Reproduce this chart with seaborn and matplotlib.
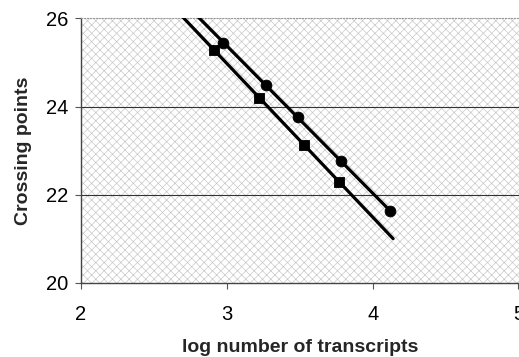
import numpy as np
import pandas as pd
import matplotlib
matplotlib.use("Agg")
import matplotlib.pyplot as plt
import seaborn as sns
from matplotlib.patches import Rectangle

# values
log_a = [2.977, 3.27, 3.49, 3.78, 4.12]
cp_a = [25.43, 24.49, 23.76, 22.76, 21.63]
log_b = [2.913, 3.222, 3.531, 3.771]
cp_b = [25.28, 24.20, 23.13, 22.29]
fit_range = [2.6, 4.14]

x_ticks = [2, 3, 4, 5]
y_ticks = [20, 22, 24, 26]

sns.set_style("white")
plt.rcParams["font.family"] = ["Liberation Sans", "DejaVu Sans"]
plt.rcParams["hatch.linewidth"] = 0.45
plt.rcParams["hatch.color"] = "#c4c4c4"

fig = plt.figure(figsize=(5.19, 3.57), dpi=100)
ax = fig.add_axes([81 / 519, 1 - 283 / 357, (518.5 - 81) / 519, (283 - 18.3) / 357])

# dotted grey background texture
ax.add_patch(Rectangle((0, 0), 1, 1, transform=ax.transAxes, facecolor="white",
                       hatch="xxxx", edgecolor="#c4c4c4", lw=0, zorder=0))

for y in [22, 24]:
    ax.axhline(y, color="#333333", lw=0.8, zorder=1)

# regression lines
for xs, ys in [(log_a, cp_a), (log_b, cp_b)]:
    k, b = np.polyfit(xs, ys, 1)
    line = pd.DataFrame({"x": fit_range, "y": [k * fit_range[0] + b, k * fit_range[1] + b]})
    sns.lineplot(data=line, x="x", y="y", color="black", lw=2.3, ax=ax, zorder=3)

sns.scatterplot(x=log_a, y=cp_a, marker="o", s=60, color="black", edgecolor="black",
                ax=ax, zorder=4)
sns.scatterplot(x=log_b, y=cp_b, marker="s", s=60, color="black", edgecolor="black",
                ax=ax, zorder=4)

ax.set_xlim(2, 5)
ax.set_ylim(20, 26)
ax.set_xticks(x_ticks)
ax.set_yticks(y_ticks)
ax.tick_params(axis="both", labelsize=14.5, length=4, width=0.8, color="#555555",
               labelcolor="black", direction="out", left=True, bottom=True)
ax.tick_params(axis="x", pad=12)
ax.tick_params(axis="y", pad=5)

for s in ["left", "bottom"]:
    ax.spines[s].set_color("#444444")
    ax.spines[s].set_linewidth(1.0)
ax.spines["top"].set_color("#999999")
ax.spines["top"].set_linestyle(":")
ax.spines["right"].set_visible(False)

ax.set_xlabel("log number of transcripts", fontsize=14, fontweight="bold", labelpad=11)
ax.set_ylabel("Crossing points", fontsize=14, fontweight="bold", labelpad=10)

fig.savefig("out.png", dpi=100)
